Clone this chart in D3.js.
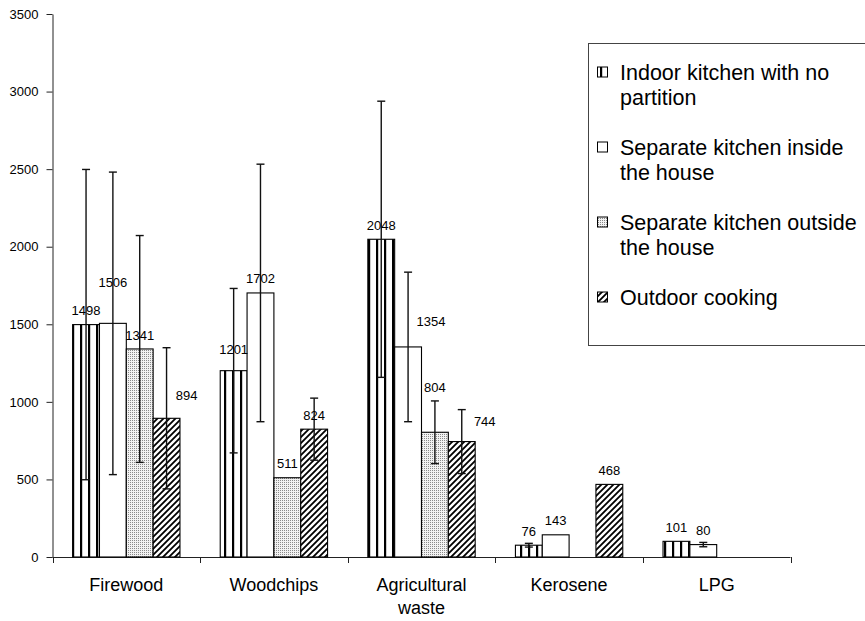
<!DOCTYPE html>
<html>
<head>
<meta charset="utf-8">
<script src="https://cdn.jsdelivr.net/npm/d3@7"></script>
<style>
  html, body { margin: 0; padding: 0; background: #fff; }
  svg { display: block; font-family: "Liberation Sans", Arial, sans-serif; }
</style>
</head>
<body>
<svg id="chart" width="865" height="621"></svg>
<script>
// ---------- data ----------
const categories = ["Firewood", "Woodchips", "Agricultural waste", "Kerosene", "LPG"];
const seriesNames = [
  "Indoor kitchen with no partition",
  "Separate kitchen inside the house",
  "Separate kitchen outside the house",
  "Outdoor cooking"
];
const indoorNoPartition = [1498, 1201, 2048, 76, 101];
const separateInside    = [1506, 1702, 1354, 143, 80];
const separateOutside   = [1341, 511, 804, null, null];
const outdoorCooking    = [894, 824, 744, 468, null];

const errIndoorNoPartition = [1000, 530, 890, 12, null];
const errSeparateInside    = [975, 830, 482, null, 14];
const errSeparateOutside   = [731, null, 202, null, null];
const errOutdoorCooking    = [455, 200, 206, null, null];

const yTickValues = [0, 500, 1000, 1500, 2000, 2500, 3000, 3500];

// label nudges (series index, category index) -> pixel offsets from default spot
const labelNudge = {
  "1,0": {dx: 0, dy: -27},
  "3,0": {dx: 20, dy: -9},
  "0,1": {dx: 0, dy: -7},
  "1,2": {dx: 23, dy: -11},
  "2,2": {dx: 0, dy: -31},
  "3,2": {dx: 23, dy: -6}
};

const seriesValues = [indoorNoPartition, separateInside, separateOutside, outdoorCooking];
const seriesErrors = [errIndoorNoPartition, errSeparateInside, errSeparateOutside, errOutdoorCooking];

// ---------- layout ----------
const svg = d3.select("#chart");
const plot = {left: 52.5, right: 790.5, top: 14, bottom: 557};

const x0 = d3.scaleBand().domain(categories).range([plot.left, plot.right]).paddingInner(0).paddingOuter(0);
const x1 = d3.scaleBand().domain(d3.range(4)).range([0, x0.bandwidth()]).paddingInner(0).paddingOuter(0.75);
const y = d3.scaleLinear().domain([0, 3500]).range([plot.bottom, plot.top]);

// ---------- patterns ----------
const defs = svg.append("defs");
const pv = defs.append("pattern").attr("id", "pVert").attr("patternUnits", "userSpaceOnUse")
  .attr("width", 8).attr("height", 8);
pv.append("rect").attr("width", 8).attr("height", 8).attr("fill", "#fff");
pv.append("rect").attr("x", 0).attr("width", 2.2).attr("height", 8).attr("fill", "#000");

const pd = defs.append("pattern").attr("id", "pDots").attr("patternUnits", "userSpaceOnUse")
  .attr("width", 2).attr("height", 2);
pd.append("rect").attr("width", 2).attr("height", 2).attr("fill", "#f2f2f2");
pd.append("rect").attr("width", 1).attr("height", 1).attr("fill", "#8a8a8a");

const ph = defs.append("pattern").attr("id", "pHatch").attr("patternUnits", "userSpaceOnUse")
  .attr("width", 6).attr("height", 6);
ph.append("rect").attr("width", 6).attr("height", 6).attr("fill", "#fff");
ph.append("path").attr("d", "M0,6 L6,0 M-1,1 L1,-1 M5,7 L7,5")
  .attr("stroke", "#000").attr("stroke-width", 1.8);

const fills = ["url(#pVert)", "#fff", "url(#pDots)", "url(#pHatch)"];

// ---------- axes ----------
const yAxis = d3.axisLeft(y).tickValues(yTickValues).tickFormat(d3.format("d"))
  .tickSize(6).tickSizeOuter(0).tickPadding(8);
const gy = svg.append("g").attr("transform", `translate(${plot.left},0)`).call(yAxis);
gy.select(".domain").attr("stroke", "#222");
gy.selectAll(".tick line").attr("stroke", "#222");
gy.selectAll(".tick text").attr("font-size", 13).attr("fill", "#000")
  .attr("font-family", "Liberation Sans, Arial, sans-serif");

// x axis line and boundary ticks
svg.append("line").attr("x1", plot.left).attr("x2", plot.right)
  .attr("y1", y(0) + 0.5).attr("y2", y(0) + 0.5).attr("stroke", "#222");
const boundaries = categories.map(c => x0(c)).concat([x0(categories[categories.length - 1]) + x0.bandwidth()]);
svg.selectAll(".xtick").data(boundaries).enter().append("line")
  .attr("x1", d => Math.round(d) + 0.5).attr("x2", d => Math.round(d) + 0.5)
  .attr("y1", y(0)).attr("y2", y(0) + 6).attr("stroke", "#222");

// category labels
const catG = svg.append("g");
categories.forEach(c => {
  const words = c === "Agricultural waste" ? ["Agricultural", "waste"] : [c];
  const t = catG.append("text").attr("x", x0(c) + x0.bandwidth() / 2).attr("y", 591)
    .attr("text-anchor", "middle").attr("font-size", 18).attr("fill", "#000");
  words.forEach((w, i) => {
    t.append("tspan").attr("x", x0(c) + x0.bandwidth() / 2).attr("dy", i === 0 ? 0 : 23).text(w);
  });
});

// ---------- bars ----------
const barsG = svg.append("g");
const errG = svg.append("g");
const lblG = svg.append("g");
seriesValues.forEach((vals, s) => {
  vals.forEach((v, ci) => {
    if (v === null) return;
    const c = categories[ci];
    const bx = x0(c) + x1(s);
    const bw = x1.bandwidth();
    barsG.append("rect")
      .attr("x", bx).attr("y", y(v)).attr("width", bw).attr("height", y(0) - y(v))
      .attr("fill", fills[s]).attr("stroke", "#000").attr("stroke-width", 1.1);
    const cx = bx + bw / 2;
    const e = seriesErrors[s][ci];
    if (e !== null) {
      const yt = y(v + e), yb = y(v - e);
      errG.append("line").attr("x1", cx).attr("x2", cx).attr("y1", yt).attr("y2", yb)
        .attr("stroke", "#111").attr("stroke-width", 1.4);
      [yt, yb].forEach(yy => errG.append("line").attr("x1", cx - 4).attr("x2", cx + 4)
        .attr("y1", yy).attr("y2", yy).attr("stroke", "#111").attr("stroke-width", 1.4));
    }
    const n = labelNudge[s + "," + ci] || {dx: 0, dy: 0};
    lblG.append("text").attr("x", cx + n.dx).attr("y", y(v) - 14 + n.dy).attr("dy", "0.35em")
      .attr("text-anchor", "middle").attr("font-size", 13).attr("fill", "#000").text(v);
  });
});

// ---------- legend ----------
const lg = svg.append("g");
lg.append("rect").attr("x", 588.5).attr("y", 43.5).attr("width", 290).attr("height", 302)
  .attr("fill", "#fff").attr("stroke", "#444").attr("stroke-width", 1);
const legendLines = [
  ["Indoor kitchen with no", "partition"],
  ["Separate kitchen inside", "the house"],
  ["Separate kitchen outside", "the house"],
  ["Outdoor cooking"]
];
seriesNames.forEach((name, i) => {
  const cy = 72 + i * 75;
  lg.append("rect").attr("x", 597.5).attr("y", cy - 5).attr("width", 10).attr("height", 10)
    .attr("fill", fills[i]).attr("stroke", "#000").attr("stroke-width", 1);
  const t = lg.append("text").attr("x", 620).attr("y", cy).attr("dy", "0.35em")
    .attr("font-size", 21.5).attr("fill", "#000");
  legendLines[i].forEach((w, k) => {
    t.append("tspan").attr("x", 620).attr("dy", k === 0 ? "0.35em" : 25).text(w);
  });
});
</script>
</body>
</html>
